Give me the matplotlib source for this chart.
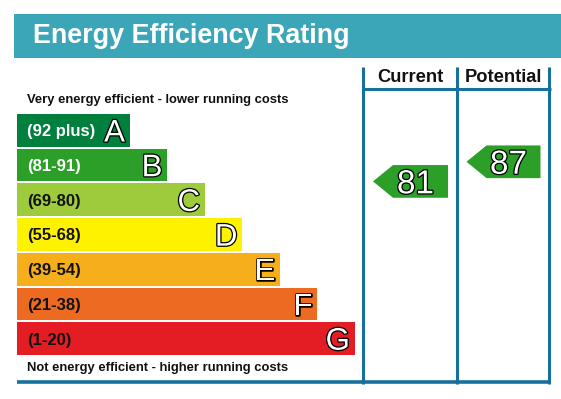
import matplotlib
matplotlib.use('Agg')
import matplotlib.pyplot as plt
from matplotlib.patches import Polygon, Rectangle
import matplotlib.patheffects as pe
from matplotlib.transforms import offset_copy

plt.rcParams['font.family'] = ['Liberation Sans', 'DejaVu Sans']

# ---------------- data ----------------
title = "Energy Efficiency Rating"
bands = ['A', 'B', 'C', 'D', 'E', 'F', 'G']
ranges = ['(92 plus)', '(81-91)', '(69-80)', '(55-68)', '(39-54)', '(21-38)', '(1-20)']
band_low = [92, 81, 69, 55, 39, 21, 1]
band_high = [100, 91, 80, 68, 54, 38, 20]
band_colors = ['#007f3d', '#2c9f29', '#9dcb3b', '#fff200', '#f7ae1b', '#ed6b21', '#e31d23']
label_colors = ['white', 'white', '#111111', '#111111', '#111111', '#111111', '#111111']
columns = ['Current', 'Potential']
ratings = [81, 87]
top_note = "Very energy efficient - lower running costs"
bottom_note = "Not energy efficient - higher running costs"

# ---------------- layout ----------------
W, H = 561, 399
fig = plt.figure(figsize=(W / 100, H / 100), dpi=100)
bg = fig.add_axes([0, 0, 1, 1])
bg.set_xlim(0, W)
bg.set_ylim(H, 0)
bg.axis('off')

LC = '#16709d'
bg.add_patch(Rectangle((14, 14), W - 14, 43.7, facecolor='#3ca6b9', edgecolor='none'))
bg.text(33, 43.3, title, color='white', fontsize=19.4, fontweight='bold', va='baseline', ha='left')

col_lines = [363.5, 457, 549.5]
for x in col_lines:
    bg.plot([x, x], [67, 384], color=LC, lw=2.2, solid_capstyle='butt')
bg.plot([362, 551], [88.5, 88.5], color=LC, lw=2.2, solid_capstyle='butt')
bg.plot([17, 551], [382.3, 382.3], color=LC, lw=2.6, solid_capstyle='butt')

for j, name in enumerate(columns):
    bg.text((col_lines[j] + col_lines[j + 1]) / 2, 82.3, name, fontsize=13.2, fontweight='bold',
            ha='center', va='baseline', color='#111111')

bg.text(27.3, 103.3, top_note, fontsize=9.4, fontweight='bold', ha='left', va='baseline', color='#111111')
bg.text(27.3, 370.7, bottom_note, fontsize=9.4, fontweight='bold', ha='left', va='baseline', color='#111111')

# bands axes: y in band index units
pitch, h_px, top0 = 34.7, 32.7, 114
gap = pitch - h_px
ax_top = top0 - gap / 2
ax_h = 7 * pitch
ax = fig.add_axes([0, 1 - (ax_top + ax_h) / H, 1, ax_h / H])
ax.set_xlim(0, W)
ax.set_ylim(6.5, -0.5)
ax.axis('off')
ax.patch.set_visible(False)

idx = list(range(len(bands)))
widths = [113 + 37.5 * i for i in idx]
bh = h_px / pitch
ax.barh(idx, widths, left=17, height=bh, color=band_colors)

stroke = [pe.withStroke(linewidth=1.8, foreground='black')]
lab_fs, let_fs, num_fs = 12, 22.5, 24
tr_lab = offset_copy(ax.transData, fig=fig, y=-0.358 * lab_fs, units='points')
tr_let = offset_copy(ax.transData, fig=fig, y=-0.358 * let_fs, units='points')
tr_num = offset_copy(ax.transData, fig=fig, y=-0.358 * num_fs, units='points')

for i in idx:
    ax.text(27, i, ranges[i], fontsize=lab_fs, fontweight='bold', color=label_colors[i],
            ha='left', va='baseline', transform=tr_lab)
    ax.text(17 + widths[i] - 5, i, bands[i], fontsize=let_fs, color='white', ha='right',
            va='baseline', transform=tr_let, path_effects=stroke)

hh = bh / 2
for j, v in enumerate(ratings):
    k = next(i for i in idx if band_low[i] <= v <= band_high[i])
    f = (v - band_low[k]) / (band_high[k] - band_low[k])
    yc = k + hh - f * 2 * hh
    x0 = col_lines[j] + 9.5
    x1 = col_lines[j + 1] - 9
    pts = [(x0, yc), (x0 + 20, yc - hh), (x1, yc - hh), (x1, yc + hh), (x0 + 20, yc + hh)]
    ax.add_patch(Polygon(pts, closed=True, facecolor=band_colors[k], edgecolor='none'))
    ax.text((x0 + x1) / 2 + 5, yc, str(v), fontsize=num_fs, color='white', ha='center',
            va='baseline', transform=tr_num, path_effects=stroke)

fig.savefig('out.png', dpi=100)
